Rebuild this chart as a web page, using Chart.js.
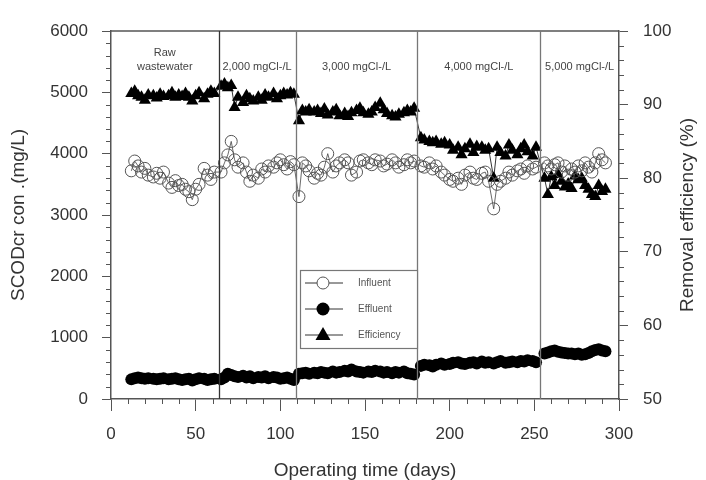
<!DOCTYPE html>
<html lang="en">
<head>
  <meta charset="UTF-8">
  <title>SCODcr removal</title>
  <script src="https://cdn.jsdelivr.net/npm/chart.js"></script>
  <style>
    body { margin: 0; background: #ffffff; }
    #wrap { width: 706px; height: 480px; }
  </style>
</head>
<body>
  <div id="wrap"><canvas id="codChart" width="706" height="480"></canvas></div>

  <script>
    // operating days (same sampling for all three series)
    const days = [
      12, 14, 16, 18, 20, 22, 25, 27, 29, 31, 34, 36, 38, 40, 42, 44, 46, 48, 50, 52, 55, 57, 59, 61,
      65, 67, 69, 71, 73, 75, 78, 80, 82, 84, 87, 89, 91, 93, 96, 98, 100, 102, 104, 106, 108,
      111, 113, 115, 117, 120, 122, 124, 126, 128, 131, 133, 135, 138, 140, 142, 145, 147, 149, 152, 154,
      156, 159, 161, 163, 166, 168, 170, 173, 175, 177, 179,
      183, 185, 188, 190, 192, 195, 197, 200, 202, 205, 207, 209, 212, 214, 216, 219, 221, 223, 226, 228,
      230, 233, 235, 237, 240, 242, 244, 246, 249, 251,
      256, 258, 260, 262, 264, 266, 268, 270, 272, 274, 276, 278, 280, 282, 284, 286, 288, 290, 292
    ];

    const influent = [
      3720, 3880, 3800, 3700, 3760, 3650, 3620, 3680, 3600, 3700, 3520, 3450, 3560, 3480, 3500, 3420, 3380, 3250, 3420, 3500, 3760, 3650, 3580, 3700,
      3700, 3850, 3980, 4200, 3900, 3780, 3850, 3700, 3550, 3650, 3600, 3750, 3700, 3800, 3780, 3850, 3900, 3820, 3750, 3870, 3820,
      3300, 3850, 3800, 3720, 3600, 3680, 3650, 3780, 4000, 3700, 3800, 3850, 3900, 3850, 3650, 3700, 3880, 3900, 3850, 3820,
      3900, 3880, 3800, 3830, 3900, 3850, 3780, 3820, 3900, 3850, 3880,
      3800, 3780, 3850, 3750, 3800, 3700, 3650, 3580, 3550, 3600, 3500, 3650, 3700, 3600, 3580, 3680, 3700, 3550, 3100, 3500,
      3550, 3600, 3700, 3650, 3720, 3750, 3680, 3800, 3750, 3780,
      3850, 3800, 3750, 3820, 3850, 3700, 3800, 3650, 3750, 3700, 3800, 3720, 3850, 3780, 3700, 3850, 4000, 3900, 3850
    ];

    const effluent = [
      320, 340, 350, 340, 330, 340, 330, 320, 330, 340, 320, 330, 340, 320, 310, 320, 330, 300, 320, 340, 330, 310, 320, 330,
      320, 350, 410, 390, 370, 360, 380, 350, 370, 340, 360, 350, 370, 340, 360, 350, 330, 340, 350, 330, 310,
      410, 420, 430, 410, 430, 420, 440, 430, 420, 450, 430, 440, 460, 450, 480, 450, 440, 430, 450, 440,
      460, 450, 430, 440, 420, 440, 430, 450, 420, 410, 400,
      540, 560, 550, 530, 560, 580, 560, 570, 590, 600, 580, 570, 590, 600, 580, 610, 590, 600, 580, 600,
      620, 590, 600, 610, 600, 620, 610, 630, 620, 600,
      740, 760, 780, 790, 770, 760, 750, 740, 740, 730, 740, 720, 730, 750, 780, 800, 810, 790, 780
    ];

    const efficiency = [
      91.5, 91.8, 91.2, 91.0, 90.6, 91.3, 91.2, 90.9, 91.4, 91.1, 91.2, 91.6, 91.0, 91.3, 91.1, 91.5, 91.0, 90.5, 91.2, 91.6, 90.8, 91.4, 91.8, 91.5,
      92.5, 92.8, 92.3, 92.6, 89.6, 91.0, 90.3, 91.2, 90.8, 90.5, 91.0, 90.6, 91.3, 91.0, 91.5, 90.8, 91.2, 91.5, 91.3, 91.6, 91.4,
      87.8, 89.2, 89.0, 89.3, 89.0, 89.2, 88.8, 89.4, 88.6, 89.0, 89.3, 88.5, 88.8, 88.4, 88.9, 89.2, 89.5, 88.9, 88.7, 89.0,
      89.6, 90.2, 89.3, 88.8, 88.5, 88.3, 88.7, 88.9, 89.2, 89.0, 89.5,
      85.5, 85.2, 85.0, 84.8, 85.0, 84.6, 84.8, 84.5, 83.8, 84.2, 83.2, 84.0, 84.6, 83.5, 84.3, 84.2, 83.8, 84.0, 80.0, 84.2,
      83.5, 83.0, 84.5, 83.8, 83.2, 84.0, 84.5, 83.6, 83.0, 84.2,
      80.0, 77.8, 80.2, 79.0, 80.5, 79.6, 78.8, 79.2, 78.6, 80.3, 79.8, 80.0, 79.0, 78.5, 77.8, 77.5, 79.0, 78.2, 78.5
    ];

    // phase boundaries (days) and their labels
    const phaseBounds = [63.5, 109, 181, 253.5];
    const phaseLabels = [['Raw', 'wastewater'], ['2,000 mgCl-/L'], ['3,000 mgCl-/L'], ['4,000 mgCl-/L'], ['5,000 mgCl-/L']];

    const FONT = '"Liberation Sans", Arial, sans-serif';
    const TXT = '#333';
    const AX = '#555';

    const toPts = vals => days.map((d, i) => ({ x: d, y: vals[i] }));
    const plain = v => String(v);

    const extras = {
      id: 'extras',
      afterDatasetsDraw(chart) {
        const { ctx, chartArea: a, scales } = chart;
        const x = scales.x, y = scales.y, y1 = scales.y1;
        ctx.save();

        // top frame line
        ctx.strokeStyle = AX;
        ctx.lineWidth = 1.5;
        ctx.beginPath();
        ctx.moveTo(a.left, a.top);
        ctx.lineTo(a.right, a.top);
        ctx.stroke();

        // phase dividers
        phaseBounds.forEach((b, i) => {
          const px = Math.round(x.getPixelForValue(b)) + 0.5;
          ctx.strokeStyle = i === 0 ? '#333' : '#777';
          ctx.lineWidth = 1.3;
          ctx.beginPath();
          ctx.moveTo(px, a.top);
          ctx.lineTo(px, a.bottom);
          ctx.stroke();
        });

        // phase labels
        const edges = [x.min].concat(phaseBounds, [x.max]);
        ctx.fillStyle = '#444';
        ctx.font = '11px ' + FONT;
        ctx.textAlign = 'center';
        ctx.textBaseline = 'middle';
        phaseLabels.forEach((lines, i) => {
          const cx = x.getPixelForValue((edges[i] + edges[i + 1]) / 2);
          if (lines.length === 2) {
            ctx.fillText(lines[0], cx, a.top + 22);
            ctx.fillText(lines[1], cx, a.top + 36);
          } else {
            ctx.fillText(lines[0], cx, a.top + 36);
          }
        });

        // minor ticks
        ctx.strokeStyle = AX;
        ctx.lineWidth = 1;
        ctx.beginPath();
        for (let v = 0; v <= 300; v += 10) {
          if (v % 50 === 0) continue;
          const px = Math.round(x.getPixelForValue(v)) + 0.5;
          ctx.moveTo(px, a.bottom); ctx.lineTo(px, a.bottom + 5);
        }
        for (let v = 0; v <= 6000; v += 200) {
          if (v % 1000 === 0) continue;
          const py = Math.round(y.getPixelForValue(v)) + 0.5;
          ctx.moveTo(a.left, py); ctx.lineTo(a.left - 5, py);
        }
        for (let v = 50; v <= 100; v += 2) {
          if (v % 10 === 0) continue;
          const py = Math.round(y1.getPixelForValue(v)) + 0.5;
          ctx.moveTo(a.right, py); ctx.lineTo(a.right + 5, py);
        }
        ctx.stroke();

        // right axis title, reading bottom to top
        ctx.save();
        ctx.translate(688, (a.top + a.bottom) / 2);
        ctx.rotate(-Math.PI / 2);
        ctx.fillStyle = TXT;
        ctx.font = '19px ' + FONT;
        ctx.textAlign = 'center';
        ctx.textBaseline = 'middle';
        ctx.fillText('Removal efficiency (%)', 0, 0);
        ctx.restore();

        // legend box
        const lx = 300, ly = 270, lw = 117, lh = 78;
        ctx.fillStyle = '#fff';
        ctx.fillRect(lx, ly, lw, lh);
        ctx.strokeStyle = '#777';
        ctx.lineWidth = 1.2;
        ctx.strokeRect(lx + 0.5, ly + 0.5, lw, lh);
        const rows = [
          { t: 'Influent', style: 'open' },
          { t: 'Effluent', style: 'dot' },
          { t: 'Efficiency', style: 'tri' }
        ];
        rows.forEach((r, i) => {
          const ry = ly + 13 + i * 26;
          const mx = lx + 23;
          ctx.strokeStyle = '#333';
          ctx.lineWidth = 1;
          ctx.beginPath();
          ctx.moveTo(lx + 5, ry); ctx.lineTo(lx + 43, ry);
          ctx.stroke();
          ctx.beginPath();
          if (r.style === 'open') {
            ctx.fillStyle = '#fff';
            ctx.arc(mx, ry, 6, 0, Math.PI * 2);
            ctx.fill();
            ctx.strokeStyle = '#555';
            ctx.stroke();
          } else if (r.style === 'dot') {
            ctx.fillStyle = '#000';
            ctx.arc(mx, ry, 6.5, 0, Math.PI * 2);
            ctx.fill();
          } else {
            ctx.fillStyle = '#000';
            ctx.moveTo(mx, ry - 8); ctx.lineTo(mx + 7.5, ry + 5); ctx.lineTo(mx - 7.5, ry + 5);
            ctx.closePath();
            ctx.fill();
          }
          ctx.fillStyle = '#555';
          ctx.font = '10px ' + FONT;
          ctx.textAlign = 'left';
          ctx.textBaseline = 'middle';
          ctx.fillText(r.t, lx + 58, ry);
        });

        ctx.restore();
      }
    };

    const tickFont = { family: FONT, size: 17 };
    const titleFont = { family: FONT, size: 19 };

    new Chart(document.getElementById('codChart'), {
      type: 'line',
      data: {
        datasets: [
          {
            label: 'Influent',
            data: toPts(influent),
            yAxisID: 'y',
            borderColor: '#444',
            borderWidth: 0.8,
            pointStyle: 'circle',
            pointRadius: 6,
            pointBorderWidth: 1,
            pointBorderColor: '#555',
            pointBackgroundColor: 'rgba(255,255,255,0)',
            tension: 0
          },
          {
            label: 'Effluent',
            data: toPts(effluent),
            yAxisID: 'y',
            borderColor: '#000',
            borderWidth: 1,
            pointStyle: 'circle',
            pointRadius: 6,
            pointBorderWidth: 0,
            pointBackgroundColor: '#000',
            tension: 0
          },
          {
            label: 'Efficiency',
            data: toPts(efficiency),
            yAxisID: 'y1',
            borderColor: '#000',
            borderWidth: 0.8,
            pointStyle: 'triangle',
            pointRadius: 7,
            pointBorderWidth: 0,
            pointBackgroundColor: '#000',
            tension: 0
          }
        ]
      },
      options: {
        responsive: false,
        animation: false,
        layout: { padding: { top: 31, left: 0, right: 0, bottom: 0 } },
        plugins: {
          legend: { display: false },
          tooltip: { enabled: false }
        },
        scales: {
          x: {
            type: 'linear',
            min: 0,
            max: 300,
            afterFit: s => { s.height = 81; },
            ticks: { stepSize: 50, color: TXT, font: tickFont, padding: 13, maxRotation: 0, callback: plain },
            grid: { drawOnChartArea: false, tickLength: 12, color: AX, tickColor: AX },
            border: { color: AX, width: 1.5 },
            title: { display: true, text: 'Operating time (days)', color: TXT, font: titleFont, padding: { top: 0, bottom: -2 } }
          },
          y: {
            position: 'left',
            min: 0,
            max: 6000,
            afterFit: s => { s.width = 111; },
            ticks: { stepSize: 1000, color: TXT, font: tickFont, padding: 14, callback: plain },
            grid: { drawOnChartArea: false, tickLength: 9, color: AX, tickColor: AX },
            border: { color: AX, width: 1.5 },
            title: { display: true, text: 'SCODcr con .(mg/L)', color: TXT, font: titleFont, padding: { top: 7, bottom: 0 } }
          },
          y1: {
            position: 'right',
            min: 50,
            max: 100,
            afterFit: s => { s.width = 87; },
            ticks: { stepSize: 10, color: TXT, font: tickFont, padding: 15, callback: plain },
            grid: { drawOnChartArea: false, tickLength: 9, color: AX, tickColor: AX },
            border: { color: AX, width: 1.5 },
            title: { display: false }
          }
        }
      },
      plugins: [extras]
    });
  </script>
</body>
</html>
